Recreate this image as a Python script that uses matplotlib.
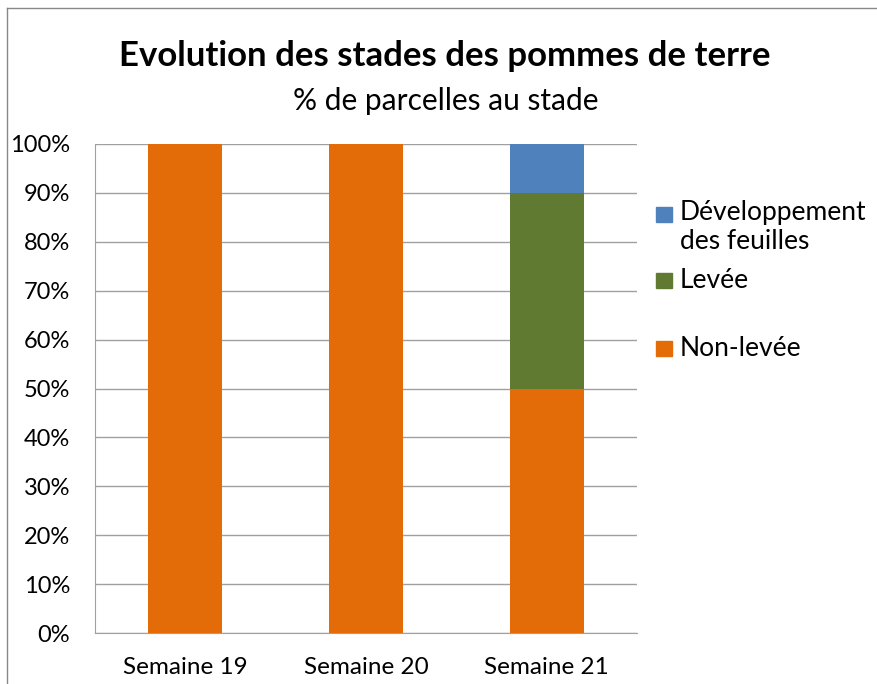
import matplotlib
matplotlib.use("Agg")
import matplotlib.pyplot as plt
import numpy as np
from matplotlib.patches import Rectangle
from matplotlib.lines import Line2D

plt.rcParams['font.family'] = ['Lato', 'DejaVu Sans']

# Data
weeks = ['Semaine 19', 'Semaine 20', 'Semaine 21']
non_levee = [100, 100, 50]
levee = [0, 0, 40]
dev_feuilles = [0, 0, 10]
series_names = ['Développement\ndes feuilles', 'Levée', 'Non-levée']
colors = ['#4F81BD', '#617A31', '#E36C09']
yticks = list(range(0, 101, 10))

fig = plt.figure(figsize=(8.78, 6.84), dpi=100)
ax = fig.add_axes([95 / 878, 51 / 684, 542 / 878, 489 / 684])

x = np.arange(len(weeks))
ax.bar(x, non_levee, width=0.41, color=colors[2], zorder=3)
ax.bar(x, levee, width=0.41, bottom=non_levee, color=colors[1], zorder=3)
ax.bar(x, dev_feuilles, width=0.41, bottom=np.add(non_levee, levee), color=colors[0], zorder=3)

ax.set_xlim(-0.5, 2.5)
ax.set_ylim(0, 100)
ax.set_yticks(yticks)
ax.set_yticklabels([f'{v}%' for v in yticks], fontsize=17)
ax.set_xticks(x)
ax.set_xticklabels(weeks, fontsize=17.5)
ax.tick_params(axis='both', length=0)
ax.tick_params(axis='y', pad=18)
ax.tick_params(axis='x', pad=17)
ax.grid(axis='y', color='#A0A0A0', linewidth=1, zorder=0)
for s in ['top', 'right']:
    ax.spines[s].set_visible(False)
ax.spines['left'].set_color('#A0A0A0')
ax.spines['bottom'].set_color('#A0A0A0')

# Titles
fig.text(445 / 878, 1 - 56 / 684, 'Evolution des stades des pommes de terre',
         ha='center', va='center', fontsize=25, fontweight='bold')
fig.text(446 / 878, 1 - 101 / 684, '% de parcelles au stade',
         ha='center', va='center', fontsize=21.5)

# Legend (manual, Excel-style spacing)
leg_y = [215, 281, 349]
for name, col, yy in zip(series_names, colors, leg_y):
    fig.patches.append(Rectangle((656 / 878, 1 - (yy + 7) / 684), 16 / 878, 15 / 684,
                                 transform=fig.transFigure, color=col))
    if '\n' in name:
        fig.text(680 / 878, 1 - (yy - 15) / 684, name, ha='left', va='top',
                 fontsize=19, linespacing=1.2)
    else:
        fig.text(680 / 878, 1 - yy / 684, name, ha='left', va='center', fontsize=19)

# Chart border (cropped frame)
fig.lines.append(Line2D([7 / 878, 7 / 878], [0, 1 - 8 / 684], transform=fig.transFigure,
                        color='#888888', linewidth=1))
fig.lines.append(Line2D([7 / 878, 1], [1 - 8 / 684, 1 - 8 / 684], transform=fig.transFigure,
                        color='#888888', linewidth=1))

fig.savefig('out.png', dpi=100)
